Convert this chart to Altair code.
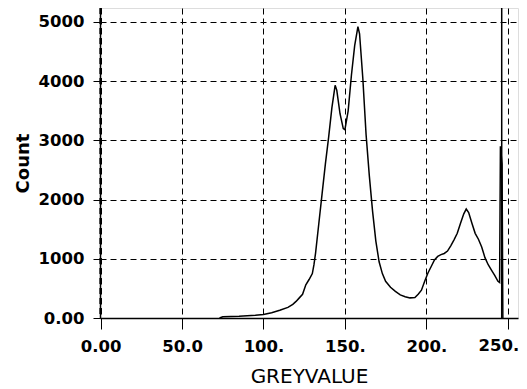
import altair as alt
import pandas as pd

grey = [73, 75, 80, 85, 90, 95, 100, 105, 110, 115, 118, 120, 122, 124, 126, 128, 130, 131, 132,
        134, 136, 138, 140, 142, 144, 145, 147, 149, 150, 152, 154, 156, 158, 159, 161, 163, 165,
        167, 169, 171, 173, 175, 178, 181, 184, 187, 190, 193, 195, 197, 199, 201, 203, 205, 207,
        209, 211, 213, 215, 217, 219, 221, 223, 224.5, 226, 228, 230, 232, 234, 236, 238, 240, 242,
        244, 245, 245.5, 246.5, 247]
count = [0, 20, 25, 30, 40, 45, 60, 90, 130, 180, 230, 280, 340, 400, 560, 650, 750, 900, 1100,
         1600, 2100, 2600, 3050, 3550, 3930, 3850, 3450, 3200, 3180, 3500, 4100, 4600, 4920, 4800,
         4050, 3100, 2400, 1800, 1300, 950, 750, 620, 520, 450, 390, 360, 340, 345, 400, 470, 620,
         760, 870, 980, 1040, 1070, 1090, 1130, 1220, 1320, 1430, 1600, 1760, 1840, 1780, 1600,
         1430, 1330, 1200, 1020, 900, 810, 720, 620, 600, 2900, 2600, 0]

x_ticks = [0, 50, 100, 150, 200, 250]
y_ticks = [0, 1000, 2000, 3000, 4000, 5000]
last_label_value = [250]
last_label_text = ["250."]
marker_solid = [246.3]
marker_dashed = [0]

df = pd.DataFrame({"grey": grey, "count": count})

FONT = "DejaVu Sans"
xscale = alt.Scale(domain=[-0.4, 256.3], nice=False, zero=False)
yscale = alt.Scale(domain=[0, 5236], nice=False)

x_lab = ("datum.value == 0 ? '0.00' : datum.value == 50 ? '50.0' : "
         "datum.value == 250 ? '' : datum.value + '.'")
y_lab = "datum.value == 0 ? '0.00' : '' + datum.value"

line = alt.Chart(df).mark_line(color="black", strokeWidth=1.5, interpolate="linear").encode(
    x=alt.X("grey:Q", scale=xscale, title="GREYVALUE",
            axis=alt.Axis(values=x_ticks, labelExpr=x_lab, grid=True, gridDash=[6, 4],
                          gridColor="black", gridWidth=1, tickSize=11, tickColor="black",
                          domainColor="black", domainWidth=1.5, labelFont=FONT,
                          labelFontWeight="bold", labelFontSize=16.5, labelColor="black",
                          labelFlush=False, labelOverlap=False,
                          labelPadding=9, titleFont=FONT, titleFontWeight="normal",
                          titleFontSize=20, titleColor="black", titlePadding=12)),
    y=alt.Y("count:Q", scale=yscale, title="Count",
            axis=alt.Axis(values=y_ticks, labelExpr=y_lab, grid=True, gridDash=[6, 4],
                          gridColor="black", gridWidth=1, tickSize=7, tickColor="black",
                          domainColor="black", domainWidth=1.5, labelFont=FONT,
                          labelFontWeight="bold", labelFontSize=16.5, labelColor="black",
                          labelFlush=False, labelOverlap=False,
                          labelPadding=9, titleFont=FONT, titleFontWeight="bold",
                          titleFontSize=18, titleColor="black", titlePadding=6)),
)

last_label = alt.Chart(pd.DataFrame({"g": last_label_value, "t": last_label_text})).mark_text(
    font=FONT, fontWeight="bold", fontSize=16.5, color="black", align="right",
    baseline="top", dx=11.5, dy=20).encode(
    x=alt.X("g:Q", scale=xscale), y=alt.value(310), text="t:N")

rule_solid = alt.Chart(pd.DataFrame({"g": marker_solid})).mark_rule(
    color="black", strokeWidth=1.5).encode(x=alt.X("g:Q", scale=xscale))
rule_dashed = alt.Chart(pd.DataFrame({"g": marker_dashed})).mark_rule(
    color="black", strokeWidth=2.5, strokeDash=[6, 4]).encode(x=alt.X("g:Q", scale=xscale))

chart = alt.layer(rule_dashed, line, rule_solid, last_label).properties(
    width=418, height=310,
    autosize=alt.AutoSizeParams(type="none"),
    padding={"left": 92, "top": 0, "right": 1, "bottom": 71},
).configure_view(stroke="black", strokeWidth=1.5).configure(background="white")

chart.save("out.html", embed_options={"renderer": "svg", "actions": False})
